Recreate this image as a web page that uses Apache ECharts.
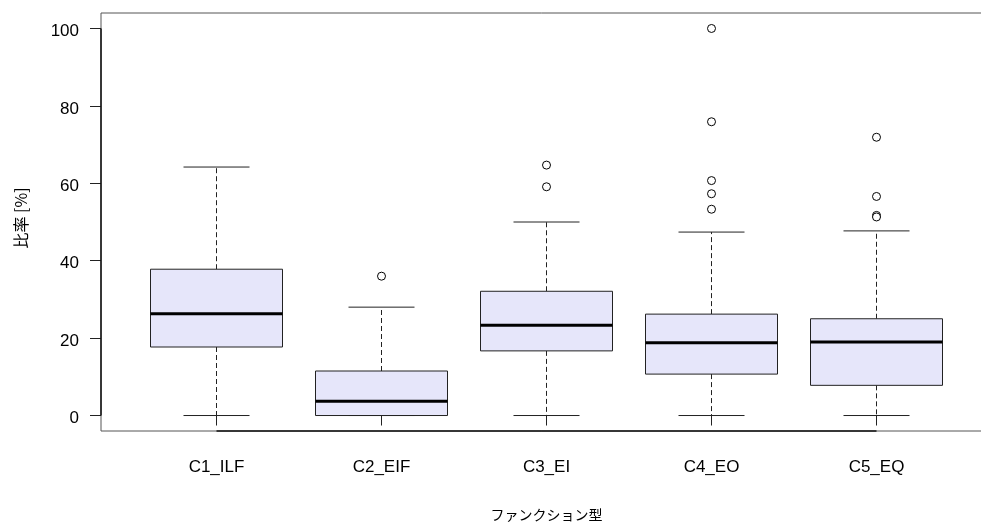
<!DOCTYPE html>
<html>
<head>
<meta charset="utf-8">
<script src="https://cdn.jsdelivr.net/npm/echarts@6/dist/echarts.min.js"></script>
<style>
html,body{margin:0;padding:0;background:#fff;}
#chart{width:981px;height:523px;}
</style>
</head>
<body>
<div id="chart"></div>
<script>
// ---- data ----
var categories = ['C1_ILF', 'C2_EIF', 'C3_EI', 'C4_EO', 'C5_EQ'];
var whiskerLow  = [0, 0, 0, 0, 0];
var q1          = [17.7, 0, 16.7, 10.7, 7.8];
var median      = [26.3, 3.7, 23.3, 18.8, 19.0];
var q3          = [37.8, 11.5, 32.1, 26.2, 25.0];
var whiskerHigh = [64.2, 28.0, 50.0, 47.4, 47.7];
var outliers = [
  [],
  [36.0],
  [64.7, 59.1],
  [100.0, 75.9, 60.7, 57.3, 53.3],
  [71.9, 56.6, 51.7, 51.3]
];
var yTicks = [0, 20, 40, 60, 80, 100];
var xTicks = [1, 2, 3, 4, 5];

// ---- build series data ----
var boxData = categories.map(function (c, i) {
  return [i + 1, whiskerLow[i], q1[i], median[i], q3[i], whiskerHigh[i]];
});
var outlierData = [];
outliers.forEach(function (arr, i) {
  arr.forEach(function (v) { outlierData.push([i + 1, v]); });
});

var fontLatin = '"Liberation Sans", Arial, sans-serif';
var fontCJK = '"Noto Sans CJK JP", sans-serif';

var chart = echarts.init(document.getElementById('chart'), null, {renderer: 'canvas'});
chart.setOption({
  animation: false,
  backgroundColor: '#ffffff',
  grid: {
    left: 101, top: 13, width: 891, height: 418,
    outerBoundsMode: 'none', containLabel: false,
    show: true, borderColor: '#555', borderWidth: 1, backgroundColor: 'transparent'
  },
  xAxis: {
    type: 'value', min: 0.3, max: 5.7,
    name: 'ファンクション型',
    nameLocation: 'middle', nameGap: 77,
    nameTextStyle: {fontFamily: fontCJK, fontSize: 14, color: '#000', verticalAlign: 'top'},
    splitLine: {show: false},
    axisLine: {show: false},
    axisTick: {show: true, customValues: xTicks, length: 10, lineStyle: {color: '#222', width: 1}},
    axisLabel: {
      customValues: xTicks, margin: 28,
      fontFamily: fontLatin, fontSize: 17, color: '#000',
      formatter: function (v) { return categories[Math.round(v) - 1] || ''; }
    }
  },
  yAxis: {
    type: 'value', min: -4, max: 104,
    name: '比率 [%]',
    nameLocation: 'middle', nameGap: 72, nameRotate: 90,
    nameTextStyle: {fontFamily: fontCJK, fontSize: 16, color: '#000', padding: [0, 0, 0, 8]},
    splitLine: {show: false},
    axisLine: {show: false},
    axisTick: {show: true, customValues: yTicks, length: 11, lineStyle: {color: '#222', width: 1}},
    axisLabel: {
      customValues: yTicks, margin: 22,
      fontFamily: fontLatin, fontSize: 17, color: '#000',
      formatter: function (v) { return '{t|' + v + '}'; },
      rich: {t: {fontFamily: fontLatin, fontSize: 17, color: '#000', padding: [6, 0, 0, 0]}}
    }
  },
  series: [
    {
      // R-style axis lines spanning only the tick range
      type: 'custom',
      silent: true,
      data: [[0]],
      renderItem: function (params, api) {
        var y0 = api.coord([0.3, yTicks[0]]);
        var y1 = api.coord([0.3, yTicks[yTicks.length - 1]]);
        var x0 = api.coord([xTicks[0], -4]);
        var x1 = api.coord([xTicks[xTicks.length - 1], -4]);
        return {
          type: 'group',
          children: [
            {type: 'line', shape: {x1: y0[0], y1: y0[1], x2: y1[0], y2: y1[1]},
             style: {stroke: '#111', lineWidth: 1.5}},
            {type: 'line', shape: {x1: x0[0], y1: x0[1], x2: x1[0], y2: x1[1]},
             style: {stroke: '#111', lineWidth: 1.5}}
          ]
        };
      },
      z: 5
    },
    {
      type: 'custom',
      data: boxData,
      encode: {x: 0, y: [1, 2, 3, 4, 5]},
      renderItem: function (params, api) {
        var x = api.value(0);
        var lo = api.coord([x, api.value(1)]);
        var b1 = api.coord([x, api.value(2)]);
        var md = api.coord([x, api.value(3)]);
        var b3 = api.coord([x, api.value(4)]);
        var hi = api.coord([x, api.value(5)]);
        var boxW = api.size([0.8, 0])[0];
        var capW = api.size([0.4, 0])[0];
        var cx = lo[0];
        var dash = {stroke: '#222', lineWidth: 1, lineDash: [5, 3]};
        var solid = {stroke: '#222', lineWidth: 1};
        return {
          type: 'group',
          children: [
            {type: 'line', shape: {x1: cx, y1: b3[1], x2: cx, y2: hi[1]}, style: dash},
            {type: 'line', shape: {x1: cx, y1: b1[1], x2: cx, y2: lo[1]}, style: dash},
            {type: 'line', shape: {x1: cx - capW / 2, y1: hi[1], x2: cx + capW / 2, y2: hi[1]}, style: solid},
            {type: 'line', shape: {x1: cx - capW / 2, y1: lo[1], x2: cx + capW / 2, y2: lo[1]}, style: solid},
            {type: 'rect', shape: {x: cx - boxW / 2, y: b3[1], width: boxW, height: b1[1] - b3[1]},
             style: {fill: '#E6E6FA', stroke: '#222', lineWidth: 1}},
            {type: 'line', shape: {x1: cx - boxW / 2, y1: md[1], x2: cx + boxW / 2, y2: md[1]},
             style: {stroke: '#000', lineWidth: 3}}
          ]
        };
      },
      z: 2
    },
    {
      type: 'scatter',
      data: outlierData,
      symbol: 'circle',
      symbolSize: 8,
      itemStyle: {color: '#ffffff', borderColor: '#000', borderWidth: 1, opacity: 1},
      z: 3
    }
  ]
});
</script>
</body>
</html>
